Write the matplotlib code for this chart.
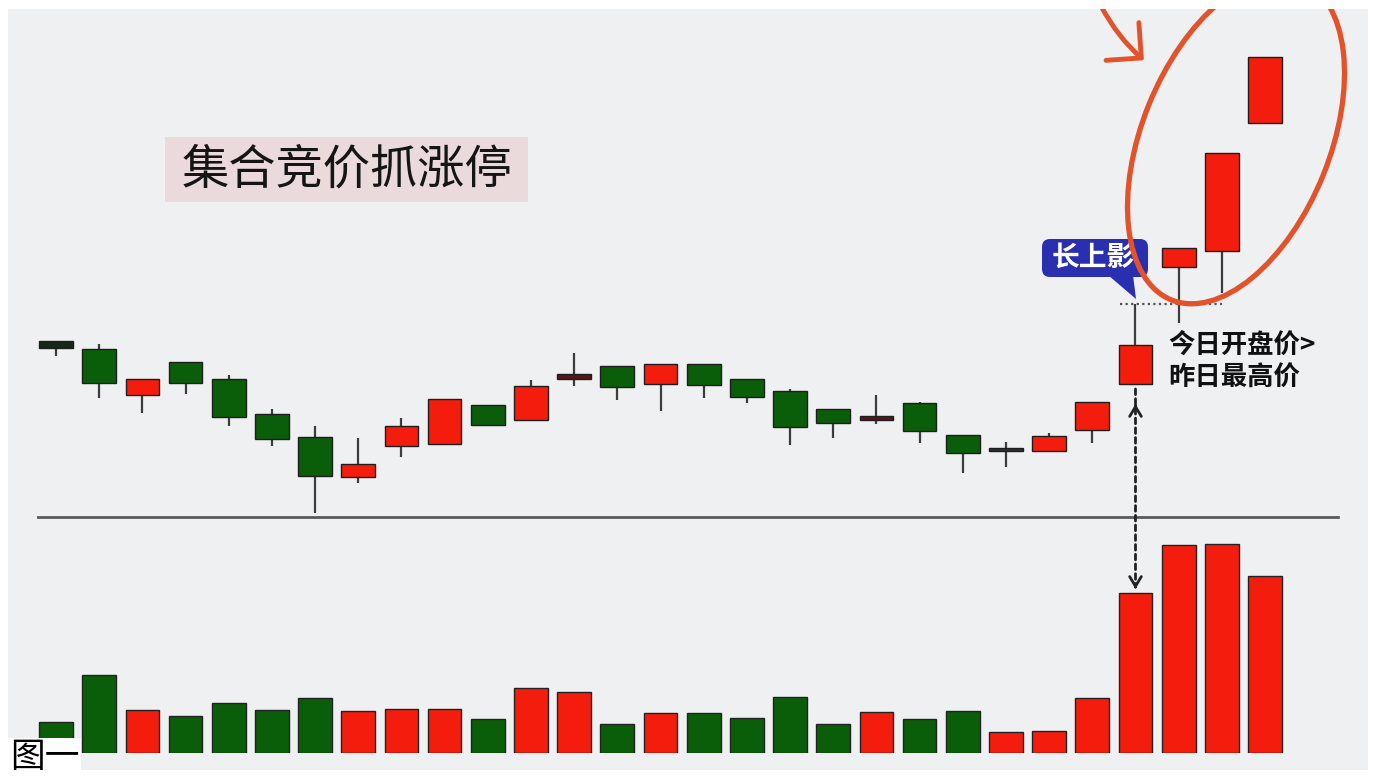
import numpy as np
import matplotlib
matplotlib.use("Agg")
import matplotlib.pyplot as plt
from matplotlib import transforms
from matplotlib.patches import Rectangle, Ellipse, FancyBboxPatch, Polygon, FancyArrowPatch, ConnectionPatch

plt.rcParams["font.family"] = ["Noto Sans CJK SC", "DejaVu Sans"]

# daily K-line data (29 trading days)
days = np.arange(29)
opens = [13.52, 13.36, 12.44, 13.10, 12.76, 12.06, 11.60, 10.80, 11.42, 11.46,
         12.24, 11.94, 12.76, 13.02, 12.66, 13.06, 12.76, 12.52, 12.16, 11.94,
         12.28, 11.64, 11.32, 11.32, 11.74, 12.66, 15.00, 15.32, 17.88]
closes = [13.38, 12.68, 12.76, 12.68, 12.00, 11.56, 10.82, 11.06, 11.82, 12.36,
          11.84, 12.62, 12.86, 12.60, 13.06, 12.64, 12.40, 11.80, 11.88, 12.02,
          11.72, 11.28, 11.32, 11.62, 12.30, 13.44, 15.38, 17.28, 19.20]
highs = [13.52, 13.46, 12.76, 13.10, 12.84, 12.16, 11.82, 11.58, 11.98, 12.36,
         12.24, 12.74, 13.28, 13.02, 13.06, 13.06, 12.76, 12.56, 12.16, 12.44,
         12.30, 11.64, 11.50, 11.68, 12.30, 14.26, 15.38, 17.28, 19.20]
lows = [13.22, 12.38, 12.08, 12.46, 11.82, 11.42, 10.08, 10.68, 11.20, 11.46,
        11.84, 11.94, 12.62, 12.34, 12.12, 12.38, 12.28, 11.44, 11.58, 11.86,
        11.48, 10.88, 11.00, 11.32, 11.48, 12.66, 13.88, 14.48, 17.88]
volumes = [31, 78, 43, 37, 50, 43, 55, 42, 44, 44,
           34, 65, 61, 29, 40, 40, 35, 56, 29, 41,
           34, 42, 21, 22, 55, 160, 208, 209, 177]

RED = "#f41c0c"
GREEN = "#0a5e0a"
ORANGE = "#e2532b"

W, H = 1375, 778
fig = plt.figure(figsize=(W / 100, H / 100), dpi=100)
fig.patch.set_facecolor("white")
# image pixel coordinates (y from the top) for the decorations
px = transforms.Affine2D().scale(1 / W, -1 / H).translate(0, 1) + fig.transFigure

panel = Rectangle((8, 9), 1360, 761, transform=px, facecolor="#eff0f2",
                  edgecolor="none", zorder=-5)
fig.add_artist(panel)

ax = fig.add_axes([38 / W, 1 - 517 / H, 1300 / W, 508 / H])
axv = fig.add_axes([38 / W, 1 - 753 / H, 1300 / W, 236 / H])
for a in (ax, axv):
    a.set_facecolor("none")
    a.axis("off")
    a.set_xlim(-0.417, 29.69)
ax.set_ylim(10.0, 20.16)
axv.set_ylim(0, 236)

o = np.array(opens)
c = np.array(closes)
body_lo = np.minimum(o, c)
body_h = np.maximum(np.abs(c - o), 0.05)
colors = []
for oo, cc in zip(o, c):
    if abs(cc - oo) < 0.15:
        if cc > oo:
            colors.append("#5a1616")
        elif cc < oo:
            colors.append("#17261a")
        else:
            colors.append("#303030")
    else:
        colors.append(RED if cc > oo else GREEN)

ax.vlines(days, lows, highs, color="#3c3c3c", lw=1.6, zorder=2)
ax.bar(days, body_h, bottom=body_lo, width=0.78, color=colors,
       edgecolor="#1e1e1e", lw=1, zorder=3)

vol_colors = [RED if cc >= oo else GREEN for oo, cc in zip(o, c)]
axv.bar(days, volumes, width=0.78, color=vol_colors, edgecolor="#222222", lw=1, zorder=3)

# separator between price and volume
ax.axhline(10.0, color="#5a5a5a", lw=2, clip_on=False, zorder=1)

# dotted line at yesterday's high
ax.hlines(highs[25], 24.64, 27.0, colors="#555555", linestyles=(0, (1, 1.5)), lw=1.6, zorder=4)

# dotted double arrow between candle and volume
con = ConnectionPatch(xyA=(25, 12.56), coordsA=ax.transData,
                      xyB=(25, 166), coordsB=axv.transData,
                      color="#222222", lw=2, linestyle=(0, (2, 1.5)), zorder=4)
fig.add_artist(con)
ax.annotate("", xy=(25, 12.26), xytext=(0, -4), textcoords="offset points",
            arrowprops=dict(arrowstyle="->,head_length=0.5,head_width=0.3",
                            color="#222222", lw=2, mutation_scale=14))
axv.annotate("", xy=(25, 164), xytext=(0, 4), textcoords="offset points",
             arrowprops=dict(arrowstyle="->,head_length=0.5,head_width=0.3",
                             color="#222222", lw=2, mutation_scale=14))

# title box
fig.add_artist(Rectangle((165, 137), 363, 65, transform=px, facecolor="#ebdadb",
                         edgecolor="none", zorder=1))
fig.text(347, 170, "集合竞价抓涨停", transform=px, fontsize=34, fontweight="medium",
         ha="center", va="center", color="#151515", zorder=2)

# callout
fig.add_artist(FancyBboxPatch((1042, 239), 106, 38, boxstyle="round,pad=0,rounding_size=8",
                              transform=px, facecolor="#2a2fb0", edgecolor="none", zorder=5))
fig.add_artist(Polygon([(1108, 275), (1133, 275), (1136, 299)], closed=True, transform=px,
                       facecolor="#2a2fb0", edgecolor="none", zorder=5))
fig.text(1093, 258, "长上影", transform=px, fontsize=20, fontweight="bold", color="white",
         ha="center", va="center", zorder=6)

fig.text(1168, 345, "今日开盘价>", transform=px, fontsize=19, fontweight="bold",
         color="#111111", ha="left", va="center")
fig.text(1168, 378, "昨日最高价", transform=px, fontsize=19, fontweight="bold",
         color="#111111", ha="left", va="center")

# hand-drawn ellipse and arrow
ell = Ellipse((1236, 140), 188, 345, angle=22, transform=px, facecolor="none",
              edgecolor=ORANGE, lw=3.8, zorder=7)
fig.add_artist(ell)
ell.set_clip_path(panel)
arr = FancyArrowPatch((1100, 4), (1146, 62), transform=px, connectionstyle="arc3,rad=0.1",
                      arrowstyle="->,head_length=0.45,head_width=0.45", mutation_scale=40,
                      color=ORANGE, lw=3.5, zorder=7)
fig.add_artist(arr)
arr.set_clip_path(panel)

fig.text(10, 775, "图一", transform=px, fontsize=25, ha="left", va="bottom", color="black",
         bbox=dict(boxstyle="square,pad=0.05", facecolor="white", edgecolor="none"), zorder=8)

fig.savefig("out.png", dpi=100, facecolor="white")
